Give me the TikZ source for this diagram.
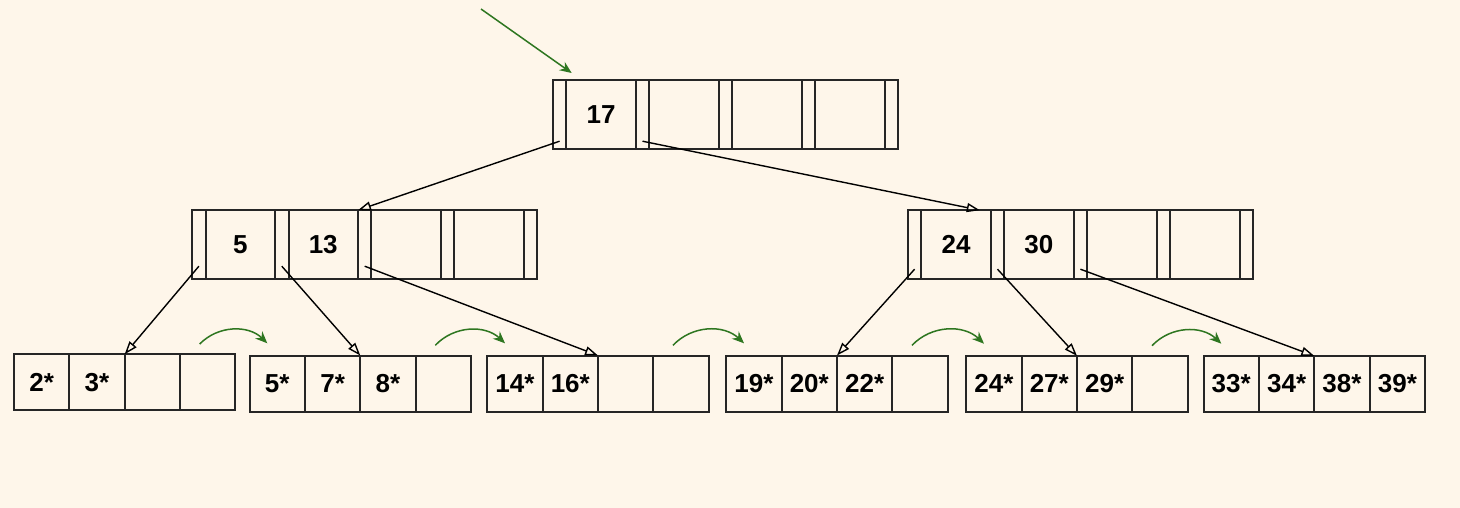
\documentclass[tikz,border=0pt]{standalone}
\usepackage{fontspec}
\setmainfont{Liberation Sans}
\usetikzlibrary{matrix, positioning, calc, arrows.meta}
\definecolor{paper}{RGB}{254,246,234}
\definecolor{linkgreen}{RGB}{46,118,32}
\tikzset{
    every node/.style={font=\bfseries\fontsize{26}{30}\selectfont},
    slot/.style={draw=black!85, line width=2pt, outer sep=0pt, inner sep=0pt, anchor=center, minimum width=13.4pt, minimum height=69pt},
    keycell/.style={draw=black!85, line width=2pt, outer sep=0pt, inner sep=0pt, anchor=center, minimum width=69.5pt, minimum height=69pt},
    leafcell/.style={draw=black!85, line width=2pt, outer sep=0pt, inner sep=0pt, anchor=center, minimum width=55.4pt, minimum height=56pt},
    innernode/.style={matrix of nodes, nodes in empty cells, nodes={keycell}, column sep=-2pt, inner sep=0pt, matrix anchor=north west},
    leafnode/.style={matrix of nodes, nodes in empty cells, nodes={leafcell}, column sep=-2pt, inner sep=0pt, matrix anchor=north west},
    ptr/.style={-{Triangle[open, length=13pt, width=9pt]}, line width=1.4pt},
    nextleaf/.style={-{Stealth[length=12pt, width=10pt]}, draw=linkgreen, line width=1.5pt},
}

\begin{document}
\begin{tikzpicture}[x=1pt, y=1pt]
% page background
\fill[paper] (0,0) rectangle (1460,-508);

% index nodes
\matrix (root) [innernode] at (551.7,-79) {
  |[slot]| & 17 & |[slot]| & & |[slot]| & & |[slot]| & & |[slot]| \\
};
\matrix (inL) [innernode] at (191,-209) {
  |[slot]| & 5 & |[slot]| & 13 & |[slot]| & & |[slot]| & & |[slot]| \\
};
\matrix (inR) [innernode] at (906.7,-209) {
  |[slot]| & 24 & |[slot]| & 30 & |[slot]| & & |[slot]| & & |[slot]| \\
};

% leaves
\matrix (leaf1) [leafnode] at (12.7,-353)   { 2* & 3* & & \\ };
\matrix (leaf2) [leafnode] at (248.3,-354.3) { 5* & 7* & 8* & \\ };
\matrix (leaf3) [leafnode] at (486,-354.3)   { 14* & 16* & & \\ };
\matrix (leaf4) [leafnode] at (725,-354.3)   { 19* & 20* & 22* & \\ };
\matrix (leaf5) [leafnode] at (965,-354.7)   { 24* & 27* & 29* & \\ };
\matrix (leaf6) [leafnode] at (1202.3,-354.7) { 33* & 34* & 38* & 39* \\ };

% pointers
\draw[ptr] ([yshift=8pt]root-1-1.south) -- (inL-1-4.north east);
\draw[ptr] ([yshift=8pt]root-1-3.south) -- ([xshift=-11pt]inR-1-2.north east);
\foreach \s/\t in {1/1, 3/2, 5/3}{
  \draw[ptr] ([yshift=13pt]inL-1-\s.south) -- (leaf\t-1-2.north east);
}
\foreach \s/\t in {1/4, 3/5, 5/6}{
  \draw[ptr] ([yshift=10pt]inR-1-\s.south) -- (leaf\t-1-2.north east);
}

% entry and sibling links
\coordinate (entry) at (481,-9);
\draw[nextleaf] (entry) -- ([xshift=20pt,yshift=6pt]root.north west);
\foreach \i in {1,...,5}{
  \pgfmathtruncatemacro{\j}{\i+1} % next leaf
  \draw[nextleaf] ([xshift=-37pt,yshift=9pt]leaf\i.north east) to[bend left=45] ([xshift=19pt,yshift=11pt]leaf\j.north west);
}
\end{tikzpicture}
\end{document}
